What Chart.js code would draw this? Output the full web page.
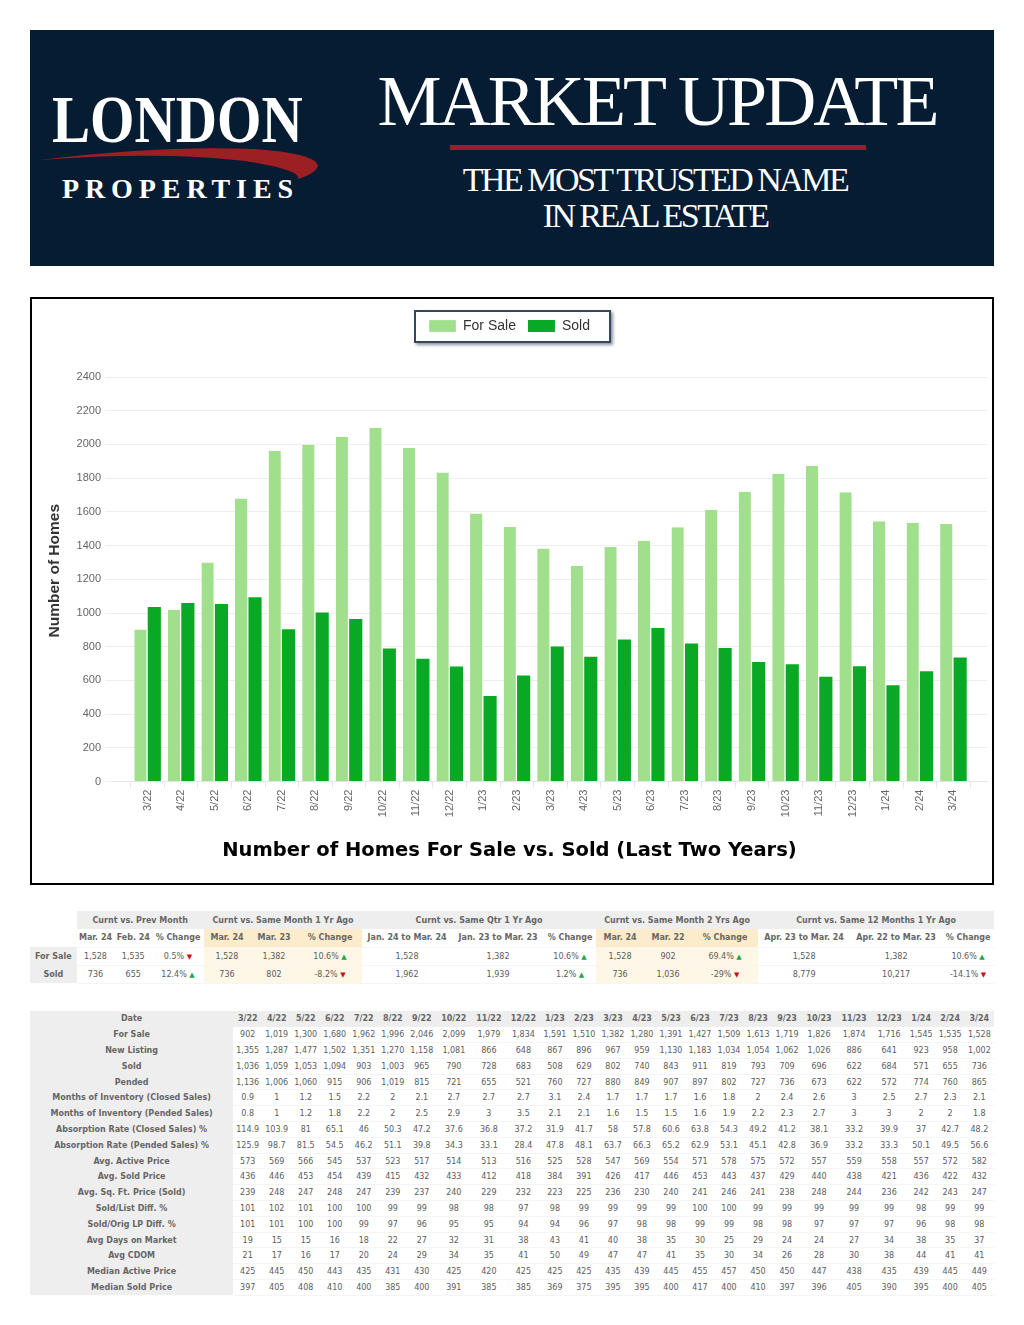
<!DOCTYPE html>
<html>
<head>
<meta charset="utf-8">
<title>Market Update</title>
<script src="https://cdn.jsdelivr.net/npm/chart.js@4"></script>
<style>
html, body { margin: 0; padding: 0; background: #fff; }
#page { position: relative; width: 1024px; height: 1325px; overflow: hidden; }
#banner { position: absolute; left: 30px; top: 30px; width: 964px; height: 236px; background: #051c33; }
.bt { position: absolute; color: #fff; font-family: "Liberation Serif", serif; white-space: nowrap; line-height: 1; }
.ctr { transform: translateX(-50%); }
#rule { position: absolute; left: 420px; top: 115px; width: 416px; height: 5px; background: #9c1f24; }
#swoosh { position: absolute; left: 0; top: 0; }
#chartBox { position: absolute; left: 30px; top: 297px; width: 960px; height: 584px; border: 2px solid #000; }
#legendBox { position: absolute; left: 382px; top: 11px; width: 193px; height: 29px; border: 2px solid #33475f; box-shadow: 2px 2px 3px #8a94a3; }
#chartWrap { position: absolute; left: 0; top: 0; width: 960px; height: 584px; }
table { position: absolute; border-collapse: collapse; table-layout: fixed; left: 30px; font-family: "DejaVu Sans", sans-serif; font-size: 8px; color: #5c5c5c; }
td { padding: 0; text-align: center; white-space: nowrap; overflow: hidden; border-bottom: 1px solid #f5f5f5; }
.hd { font-weight: bold; color: #666; }
.gr { background: #eeeeee; font-weight: bold; color: #666; border-bottom: none; }
.pe { background: #fdeccb; font-weight: bold; color: #666; }
.lt { background: #fef7e6; }
.blank { background: #fff; border-bottom: none; }
.up { color: #1fa64a; font-size: 7px; }
.dn { color: #c8101a; font-size: 7px; }
#summary tr { height: 18px; }
#detail tr { height: 15.8px; }
</style>
</head>
<body>
<div id="page">
  <div id="banner">
    <svg id="swoosh" width="964" height="236"><path fill="#9c1f24" d="M9 130 Q130 115 225 119 Q283 123 288 135 Q287 143 268 149 Q272 140 215 131 Q130 121 9 130 Z"/></svg>
    <div class="bt" id="london" style="left:22px;top:55px;font-size:68px;font-weight:bold;transform:scaleX(.84);transform-origin:left top;">LONDON</div>
    <div class="bt" style="left:32px;top:145px;font-size:28px;font-weight:bold;letter-spacing:5.9px;">PROPERTIES</div>
    <div class="bt ctr" style="left:627px;top:35px;font-size:72px;letter-spacing:-2.9px;">MARKET UPDATE</div>
    <div id="rule"></div>
    <div class="bt ctr" style="left:625px;top:133px;font-size:34px;letter-spacing:-2.55px;">THE MOST TRUSTED NAME</div>
    <div class="bt ctr" style="left:625px;top:169px;font-size:34px;letter-spacing:-2.55px;">IN REAL ESTATE</div>
  </div>

  <div id="chartBox">
    <div id="legendBox"></div>
    <div id="chartWrap"><canvas id="homesChart" width="960" height="584"></canvas></div>
  </div>

  <table id="summary" style="top:911px;width:964px;"></table>
  <table id="detail" style="top:1011px;width:964px;"></table>
</div>

<script>
// chart + detail table data
const months = ['3/22','4/22','5/22','6/22','7/22','8/22','9/22','10/22','11/22','12/22','1/23','2/23','3/23','4/23','5/23','6/23','7/23','8/23','9/23','10/23','11/23','12/23','1/24','2/24','3/24'];
const forSale = [902,1019,1300,1680,1962,1996,2046,2099,1979,1834,1591,1510,1382,1280,1391,1427,1509,1613,1719,1826,1874,1716,1545,1535,1528];
const newListing = [1355,1287,1477,1502,1351,1270,1158,1081,866,648,867,896,967,959,1130,1183,1034,1054,1062,1026,886,641,923,958,1002];
const sold = [1036,1059,1053,1094,903,1003,965,790,728,683,508,629,802,740,843,911,819,793,709,696,622,684,571,655,736];
const pended = [1136,1006,1060,915,906,1019,815,721,655,521,760,727,880,849,907,897,802,727,736,673,622,572,774,760,865];
const moiClosed = [0.9,1,1.2,1.5,2.2,2,2.1,2.7,2.7,2.7,3.1,2.4,1.7,1.7,1.7,1.6,1.8,2,2.4,2.6,3,2.5,2.7,2.3,2.1];
const moiPended = [0.8,1,1.2,1.8,2.2,2,2.5,2.9,3,3.5,2.1,2.1,1.6,1.5,1.5,1.6,1.9,2.2,2.3,2.7,3,3,2,2,1.8];
const absClosed = [114.9,103.9,81,65.1,46,50.3,47.2,37.6,36.8,37.2,31.9,41.7,58,57.8,60.6,63.8,54.3,49.2,41.2,38.1,33.2,39.9,37,42.7,48.2];
const absPended = [125.9,98.7,81.5,54.5,46.2,51.1,39.8,34.3,33.1,28.4,47.8,48.1,63.7,66.3,65.2,62.9,53.1,45.1,42.8,36.9,33.2,33.3,50.1,49.5,56.6];
const avgActive = [573,569,566,545,537,523,517,514,513,516,525,528,547,569,554,571,578,575,572,557,559,558,557,572,582];
const avgSold = [436,446,453,454,439,415,432,433,412,418,384,391,426,417,446,453,443,437,429,440,438,421,436,422,432];
const avgSqFt = [239,248,247,248,247,239,237,240,229,232,223,225,236,230,240,241,246,241,238,248,244,236,242,243,247];
const soldList = [101,102,101,100,100,99,99,98,98,97,98,99,99,99,99,100,100,99,99,99,99,99,98,99,99];
const soldOrig = [101,101,100,100,99,97,96,95,95,94,94,96,97,98,98,99,99,98,98,97,97,97,96,98,98];
const avgDom = [19,15,15,16,18,22,27,32,31,38,43,41,40,38,35,30,25,29,24,24,27,34,38,35,37];
const avgCdom = [21,17,16,17,20,24,29,34,35,41,50,49,47,47,41,35,30,34,26,28,30,38,44,41,41];
const medActive = [425,445,450,443,435,431,430,425,420,425,425,425,435,439,445,455,457,450,450,447,438,435,439,445,449];
const medSold = [397,405,408,410,400,385,400,391,385,385,369,375,395,395,400,417,400,410,397,396,405,390,395,400,405];
const yTicks = [0,200,400,600,800,1000,1200,1400,1600,1800,2000,2200,2400];

// summary table
const groupHeads = ['Curnt vs. Prev Month','Curnt vs. Same Month 1 Yr Ago','Curnt vs. Same Qtr 1 Yr Ago','Curnt vs. Same Month 2 Yrs Ago','Curnt vs. Same 12 Months 1 Yr Ago'];
const columnHeads = ['Mar. 24','Feb. 24','% Change','Mar. 24','Mar. 23','% Change','Jan. 24 to Mar. 24','Jan. 23 to Mar. 23','% Change','Mar. 24','Mar. 22','% Change','Apr. 23 to Mar. 24','Apr. 22 to Mar. 23','% Change'];
const forSaleSummary = ['1,528','1,535','0.5%','1,528','1,382','10.6%','1,528','1,382','10.6%','1,528','902','69.4%','1,528','1,382','10.6%'];
const soldSummary = ['736','655','12.4%','736','802','-8.2%','1,962','1,939','1.2%','736','1,036','-29%','8,779','10,217','-14.1%'];
const forSaleArrows = ['','','dn','','','up','','','up','','','up','','','up'];
const soldArrows = ['','','up','','','dn','','','up','','','dn','','','dn'];

const fmt = v => v >= 1000 ? v.toLocaleString('en-US') : String(v);

function buildSummary() {
    const widths = [46.5,38,37.5,52,46,48,64,90,92,52,48,48,66,92,92,52];
    const tinted = i => (i >= 3 && i < 6) || (i >= 9 && i < 12);
    let html = '<colgroup>' + widths.map(w => `<col style="width:${w}px">`).join('') + '</colgroup>';
    html += '<tr><td class="blank"></td>' + groupHeads.map(h => `<td class="gr" colspan="3">${h}</td>`).join('') + '</tr>';
    html += '<tr><td class="blank"></td>' + columnHeads.map((h, i) => `<td class="${tinted(i) ? 'pe' : 'hd'}">${h}</td>`).join('') + '</tr>';
    const row = (label, vals, arrows) => `<tr><td class="gr">${label}</td>` + vals.map((v, i) => {
        const a = arrows[i] ? ` <span class="${arrows[i]}">${arrows[i] === 'up' ? '▲' : '▼'}</span>` : '';
        return `<td class="${tinted(i) ? 'lt' : ''}">${v}${a}</td>`;
    }).join('') + '</tr>';
    html += row('For Sale', forSaleSummary, forSaleArrows) + row('Sold', soldSummary, soldArrows);
    document.getElementById('summary').innerHTML = html;
}

function buildDetail() {
    const rows = [
        ['For Sale', forSale], ['New Listing', newListing], ['Sold', sold], ['Pended', pended],
        ['Months of Inventory (Closed Sales)', moiClosed], ['Months of Inventory (Pended Sales)', moiPended],
        ['Absorption Rate (Closed Sales) %', absClosed], ['Absorption Rate (Pended Sales) %', absPended],
        ['Avg. Active Price', avgActive], ['Avg. Sold Price', avgSold], ['Avg. Sq. Ft. Price (Sold)', avgSqFt],
        ['Sold/List Diff. %', soldList], ['Sold/Orig LP Diff. %', soldOrig], ['Avg Days on Market', avgDom],
        ['Avg CDOM', avgCdom], ['Median Active Price', medActive], ['Median Sold Price', medSold]
    ];
    const wide = { '10/22': 35, '11/22': 35, '12/22': 34, '10/23': 35, '11/23': 35, '12/23': 35 };
    let html = '<colgroup><col style="width:203px">' + months.map(m => `<col style="width:${wide[m] || 29}px">`).join('') + '</colgroup>';
    html += '<tr><td class="gr">Date</td>' + months.map(m => `<td class="gr">${m}</td>`).join('') + '</tr>';
    rows.forEach(([label, vals]) => {
        html += `<tr><td class="gr">${label}</td>` + vals.map(v => `<td>${fmt(v)}</td>`).join('') + '</tr>';
    });
    document.getElementById('detail').innerHTML = html;
}

buildSummary();
buildDetail();

// extra room under the legend, the plot sits well below its box
const legendGap = {
    id: 'legendGap',
    beforeInit(chart) {
        const fit = chart.legend.fit;
        chart.legend.fit = function () {
            fit.call(this);
            this.height += 34;
        };
    }
};

// blank categories at each end leave the empty band the original axis has
new Chart(document.getElementById('homesChart'), {
    type: 'bar',
    plugins: [legendGap],
    data: {
        labels: ['', ...months, ''],
        datasets: [
            { label: 'For Sale', data: [null, ...forSale, null], backgroundColor: '#a0e08c', borderColor: '#fff', borderWidth: { right: 1 }, barPercentage: 0.98, categoryPercentage: 0.8 },
            { label: 'Sold', data: [null, ...sold, null], backgroundColor: '#0aa925', barPercentage: 0.98, categoryPercentage: 0.8 }
        ]
    },
    options: {
        responsive: false,
        animation: false,
        layout: { padding: { top: 8, right: 5, left: 0, bottom: 8 } },
        plugins: {
            legend: {
                position: 'top',
                labels: {
                    boxWidth: 27, boxHeight: 12, padding: 12, color: '#333',
                    font: { family: 'Liberation Sans', size: 14 }
                }
            },
            title: {
                display: true, position: 'bottom', color: '#000',
                text: 'Number of Homes For Sale vs. Sold (Last Two Years)',
                font: { family: 'DejaVu Sans', size: 19.5, weight: 'bold' },
                padding: { top: 0, bottom: 12.5 }
            },
            tooltip: { enabled: false }
        },
        scales: {
            x: {
                offset: false,
                grid: { display: true, drawOnChartArea: false, color: '#e6e6e6', tickLength: 6 },
                border: { color: '#e6e6e6' },
                ticks: {
                    autoSkip: false, maxRotation: 90, minRotation: 90, padding: 2, color: '#666',
                    font: { family: 'Liberation Sans', size: 11 }
                },
                afterFit(s) { s.height = 57.5; s.paddingLeft = 0; s.paddingRight = 0; }
            },
            y: {
                min: 0, max: 2400,
                grid: { color: '#eeeeee', tickLength: 9 },
                border: { display: false },
                afterBuildTicks(s) { s.ticks = yTicks.map(v => ({ value: v })); },
                ticks: { padding: 4, color: '#666', font: { family: 'Liberation Sans', size: 11 }, callback: v => String(v) },
                title: {
                    display: true, text: '    Number of Homes', color: '#333',
                    padding: { top: 13, bottom: 0 },
                    font: { family: 'Liberation Sans', size: 15.5, weight: 'bold' }
                },
                afterFit(s) { s.width = 82; s.paddingTop = 0; s.paddingBottom = 0; }
            }
        }
    }
});
</script>
</body>
</html>
